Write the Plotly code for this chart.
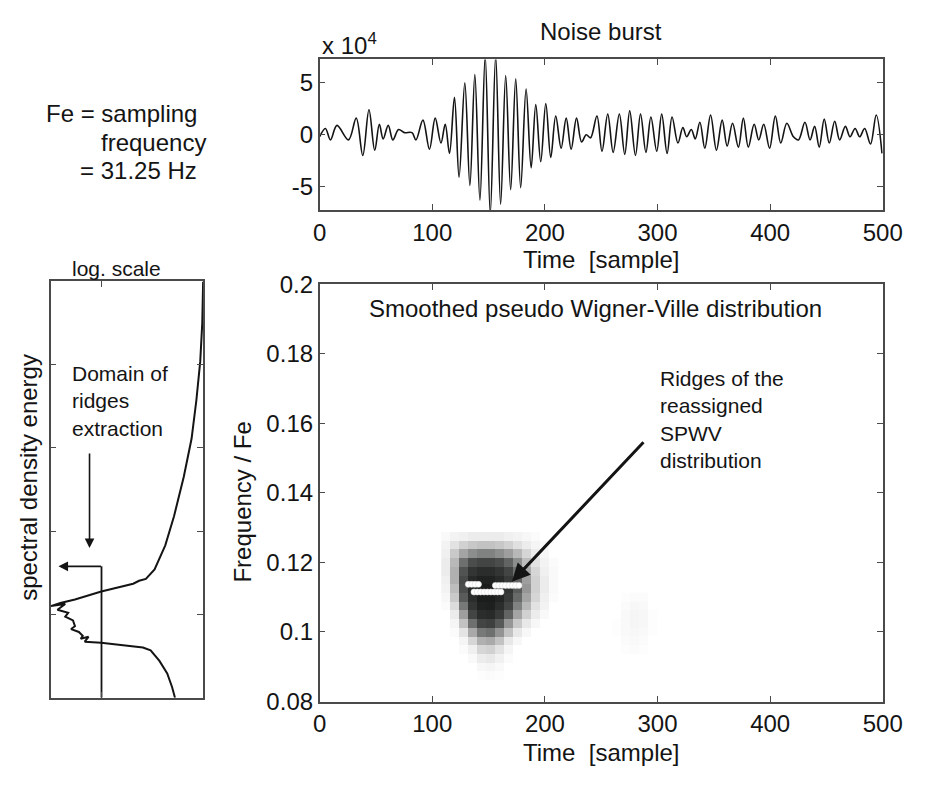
import plotly.graph_objects as go

# ---------------- data ----------------
# Noise burst: extrema of the signal (time in samples, amplitude in units of 1e4)
signal_t = [0, 5.1, 9.6, 15.4, 25.6, 32.5, 38.3, 43.8, 48.9, 53, 56.4, 60.9, 65, 70.1, 75.2, 82,
            85.5, 91.7, 97.5, 102.6, 107.7, 111.5, 115.3, 119.7, 123.8, 128.9, 133.4, 137.8,
            142.3, 147, 151.5, 156.3, 160.7, 165.2, 169.6, 174.1, 178.5, 183.3, 187.8, 191.9,
            196.3, 200.8, 205.2, 209.6, 214.4, 218.9, 223.3, 228.1, 232.6, 236.7, 240.5, 246.2,
            250.7, 255.8, 260.6, 266.1, 270.9, 275.3, 280.4, 284.9, 289.7, 294.1, 299.3, 303.7,
            308.5, 312.9, 318.1, 322.5, 325.9, 330, 333.5, 337.6, 342, 347.1, 352.3, 357.4,
            361.8, 366.6, 371.8, 376.2, 380.6, 385.8, 389.9, 394.3, 399.5, 404.6, 409.4, 414.8,
            420.7, 425.1, 430.9, 435.4, 439.5, 443.6, 448, 452.5, 457.3, 461.7, 466.8, 470.9,
            475.4, 479.5, 483.9, 489.1, 494.2, 499.3]
signal_v = [-0.2, 0.6, -0.5, 0.9, -0.5, 1.6, -2.0, 2.4, -1.5, 1.0, -0.4, 0.9, -0.5, 0.5, 0.2, 0.2,
            -0.5, 1.4, -1.4, 1.6, -0.8, 1.0, -1.8, 3.6, -4.1, 5.0, -4.9, 5.8,
            -6.3, 7.6, -7.6, 7.6, -6.7, 5.7, -5.3, 5.4, -5.1, 4.4, -3.2, 2.9,
            -2.6, 3.0, -2.2, 1.8, -1.3, 1.6, -1.4, 1.6, -0.7, 0.0, -0.3, 1.8,
            -1.6, 2.0, -1.7, 2.0, -1.9, 2.3, -2.0, 2.0, -1.7, 1.7, -1.6, 2.0,
            -1.8, 1.7, -0.8, 0.7, -0.2, 0.5, -0.4, 1.2, -1.3, 1.9, -1.5, 1.4,
            -1.1, 1.1, -1.2, 1.6, -1.2, 1.0, -0.5, 1.0, -1.3, 1.8, -0.8, 1.1,
            -0.2, -0.5, 1.2, -0.5, 0.8, -1.2, 1.5, -0.8, 1.3, -0.5, 0.8, -0.2,
            0.6, -0.2, 0.6, -0.9, 1.9, -1.8]

# Spectral density energy (log scale) versus frequency / Fe
spec_energy = [1.00, 1.04, 1.14, 1.36, 1.69, 2.41, 3.74, 5.56, 9.03, 13.4, 18.2, 23.8,
               101, 333, 644, 1000, 517, 736, 453, 517, 364, 333, 397, 279, 234, 256, 180,
               214, 102, 36.9, 15.3, 10.8, 7.24, 5.09, 4.09, 3.58]
spec_freq = [0.500, 0.450, 0.404, 0.357, 0.311, 0.265, 0.218, 0.183, 0.154, 0.1427, 0.1404, 0.1369,
             0.1276, 0.118, 0.1137, 0.110, 0.1125, 0.1056, 0.102, 0.0974, 0.0928, 0.0858, 0.0824,
             0.0789, 0.0742, 0.0708, 0.0731, 0.0673, 0.0661, 0.0626, 0.0603, 0.0568, 0.0441,
             0.0290, 0.0128, 0.0]
threshold_energy = 100
threshold_top_freq = 0.158

# Smoothed pseudo Wigner-Ville distribution (normalised energy)
heat_time = [112, 120, 128, 136, 144, 152, 160, 168, 176, 184, 192, 200, 208]
heat_freq = [0.0875, 0.090, 0.0925, 0.095, 0.0975, 0.100, 0.1025, 0.105, 0.1075, 0.110,
             0.1125, 0.115, 0.1175, 0.120, 0.1225, 0.125, 0.1275]
heat_z = [
    [0, 0, 0, 0, .01, .02, .01, 0, 0, 0, 0, 0, 0],
    [0, 0, 0, 0, .04, .05, .03, 0, 0, 0, 0, 0, 0],
    [0, 0, 0, .03, .10, .12, .07, .02, 0, 0, 0, 0, 0],
    [0, 0, .02, .08, .20, .22, .15, .05, 0, 0, 0, 0, 0],
    [0, 0, .05, .20, .35, .38, .28, .12, .04, 0, 0, 0, 0],
    [0, .02, .14, .38, .55, .58, .46, .28, .12, .04, 0, 0, 0],
    [0, .05, .28, .58, .75, .78, .66, .45, .25, .12, .04, 0, 0],
    [0, .10, .42, .75, .90, .92, .82, .62, .40, .22, .10, .03, 0],
    [.02, .18, .55, .85, .97, .98, .90, .75, .52, .32, .15, .06, 0],
    [.04, .25, .65, .90, 1, 1, .95, .82, .60, .40, .20, .08, .02],
    [.06, .30, .70, .93, 1, 1, .95, .85, .65, .45, .22, .10, .03],
    [.08, .35, .72, .92, .97, .97, .92, .82, .62, .42, .22, .10, .03],
    [.10, .35, .68, .85, .90, .90, .85, .75, .58, .38, .20, .08, .03],
    [.10, .32, .58, .70, .75, .75, .70, .62, .48, .30, .15, .06, .02],
    [.08, .25, .40, .48, .52, .52, .48, .42, .32, .20, .10, .04, 0],
    [.06, .15, .22, .26, .28, .28, .26, .22, .16, .10, .05, .02, 0],
    [.03, .06, .08, .10, .10, .10, .10, .08, .06, .04, .02, 0, 0],
]
faint_time = [264, 272, 280, 288, 296]
faint_freq = [0.095, 0.0975, 0.100, 0.1025, 0.105, 0.1075, 0.110]
faint_z = [
    [0, .01, .02, .01, 0],
    [0, .02, .03, .02, 0],
    [.01, .03, .04, .03, .01],
    [.01, .03, .05, .04, .01],
    [0, .03, .05, .04, .01],
    [0, .02, .04, .03, 0],
    [0, .01, .02, .02, 0],
]

# Ridges of the reassigned SPWV distribution
ridge_t = [132, 135, 138, 141,
           137, 140, 143, 146, 149, 152, 155, 158, 161,
           156, 159, 162, 165, 168, 171, 174, 177]
ridge_f = [0.1137] * 4 + [0.1115] * 9 + [0.1134] * 8

# ---------------- figure ----------------
W, H = 929, 785
FONT = "Liberation Sans, Arial, Helvetica, sans-serif"
INK = "#141414"
AX = "#4a4a4a"


def px(x):
    return x / W


def py(y):
    return 1 - y / H


fig = go.Figure()

fig.add_trace(go.Scatter(x=signal_t, y=signal_v, mode="lines",
                         line=dict(color=INK, width=1.6, shape="spline", smoothing=1.0),
                         xaxis="x", yaxis="y", hoverinfo="skip"))

gray = [[0, "#ffffff"], [0.15, "#e2e2e2"], [0.4, "#a4a4a4"], [0.7, "#4a4d4c"], [1, "#1a1d1c"]]
fig.add_trace(go.Heatmap(x=heat_time, y=heat_freq, z=heat_z, colorscale=gray, zmin=0, zmax=1,
                         showscale=False, xaxis="x2", yaxis="y2", zsmooth=False, hoverinfo="skip"))
fig.add_trace(go.Heatmap(x=faint_time, y=faint_freq, z=faint_z, colorscale=gray, zmin=0, zmax=1,
                         showscale=False, xaxis="x2", yaxis="y2", zsmooth=False, hoverinfo="skip"))
fig.add_trace(go.Scatter(x=ridge_t, y=ridge_f, mode="markers",
                         marker=dict(color="white", size=6, line=dict(width=0.6, color="#dddddd")),
                         xaxis="x2", yaxis="y2", hoverinfo="skip"))

fig.add_trace(go.Scatter(x=spec_energy, y=spec_freq, mode="lines",
                         line=dict(color=INK, width=2),
                         xaxis="x3", yaxis="y3", hoverinfo="skip"))
fig.add_trace(go.Scatter(x=[threshold_energy, threshold_energy], y=[threshold_top_freq, 0],
                         mode="lines", line=dict(color=INK, width=1.8),
                         xaxis="x3", yaxis="y3", hoverinfo="skip", cliponaxis=False))

axis_common = dict(showgrid=False, zeroline=False, showline=True, linecolor=AX, linewidth=1.5,
                   ticks="inside", ticklen=6, tickcolor=AX, tickwidth=1.2, mirror="ticks",
                   tickfont=dict(family=FONT, size=24, color=INK))
axis_nolabel = {k: v for k, v in axis_common.items() if k != "tickfont"}

fig.update_layout(
    width=W, height=H, margin=dict(l=0, r=0, t=0, b=0), autosize=False,
    paper_bgcolor="white", plot_bgcolor="white", showlegend=False,
    font=dict(family=FONT, color=INK),
    xaxis=dict(domain=[px(322), px(902)], range=[0, 500], anchor="y",
               tickvals=[0, 100, 200, 300, 400, 500], **axis_common),
    yaxis=dict(domain=[py(203), py(47)], range=[-7.26, 7.26], anchor="x",
               tickvals=[-5, 0, 5], ticktext=["-5", "0", "5"], **axis_common),
    xaxis2=dict(domain=[px(322), px(902)], range=[0, 500], anchor="y2",
                tickvals=[0, 100, 200, 300, 400, 500], **axis_common),
    yaxis2=dict(domain=[py(712), py(280)], range=[0.08, 0.2], anchor="x2",
                tickvals=[0.08, 0.1, 0.12, 0.14, 0.16, 0.18, 0.2],
                ticktext=["0.08", "0.1", "0.12", "0.14", "0.16", "0.18", "0.2"], **axis_common),
    xaxis3=dict(domain=[px(45), px(202)], type="log", range=[3, 0], anchor="y3",
                tickvals=[100], showticklabels=False, **axis_nolabel),
    yaxis3=dict(domain=[py(708), py(277)], range=[0, 0.5], anchor="x3",
                tickvals=[0.1, 0.2, 0.3, 0.4], showticklabels=False, **axis_nolabel),
)


def txt(x, y, s, size=24, xanchor="center", yanchor="middle", align="center", angle=0):
    fig.add_annotation(x=px(x), y=py(y), xref="paper", yref="paper", text=s, showarrow=False,
                       xanchor=xanchor, yanchor=yanchor, align=align, textangle=angle,
                       font=dict(family=FONT, size=size, color=INK))


def arrow(hx, hy, tx, ty, width=1.6, size=1.0, head=2):
    fig.add_annotation(x=px(hx), y=py(hy), xref="paper", yref="paper", text="",
                       showarrow=True, ax=tx - hx, ay=ty - hy, axref="pixel", ayref="pixel",
                       arrowhead=head, arrowsize=size, arrowwidth=width, arrowcolor=INK,
                       standoff=0, startstandoff=0)


txt(612, 18, "Noise burst")
txt(322, 31, "x 10<sup>4</sup>", xanchor="left")
txt(612, 254, "Time\u00a0\u00a0[sample]")
txt(612, 765, "Time\u00a0\u00a0[sample]")
txt(243, 505, "Frequency / Fe", angle=-90)
txt(606, 305, "Smoothed pseudo Wigner-Ville distribution")
txt(670, 364, "Ridges of the<br>reassigned<br>SPWV<br>distribution", size=21,
    xanchor="left", yanchor="top", align="left")
txt(38, 103, "Fe = sampling", xanchor="left")
txt(95, 133, "frequency", xanchor="left")
txt(73, 162, "= 31.25 Hz", xanchor="left")
txt(113, 264, "log. scale", size=21)
txt(22, 480, "spectral density energy", angle=-90)
txt(65, 358, "Domain of<br>ridges<br>extraction", size=21, xanchor="left", yanchor="top",
    align="left")

arrow(520, 588, 653, 447, width=3, size=1.2, head=2)
arrow(85, 553, 85, 457, width=1.6, size=1.2, head=2)
arrow(53, 572, 97, 572, width=1.6, size=1.2, head=2)

fig.write_html(
    "out.html",
    config={"responsive": False, "displayModeBar": False},
    post_script="document.body.style.margin='0px';document.body.style.padding='0px';"
                "document.documentElement.style.overflow='hidden';",
)
